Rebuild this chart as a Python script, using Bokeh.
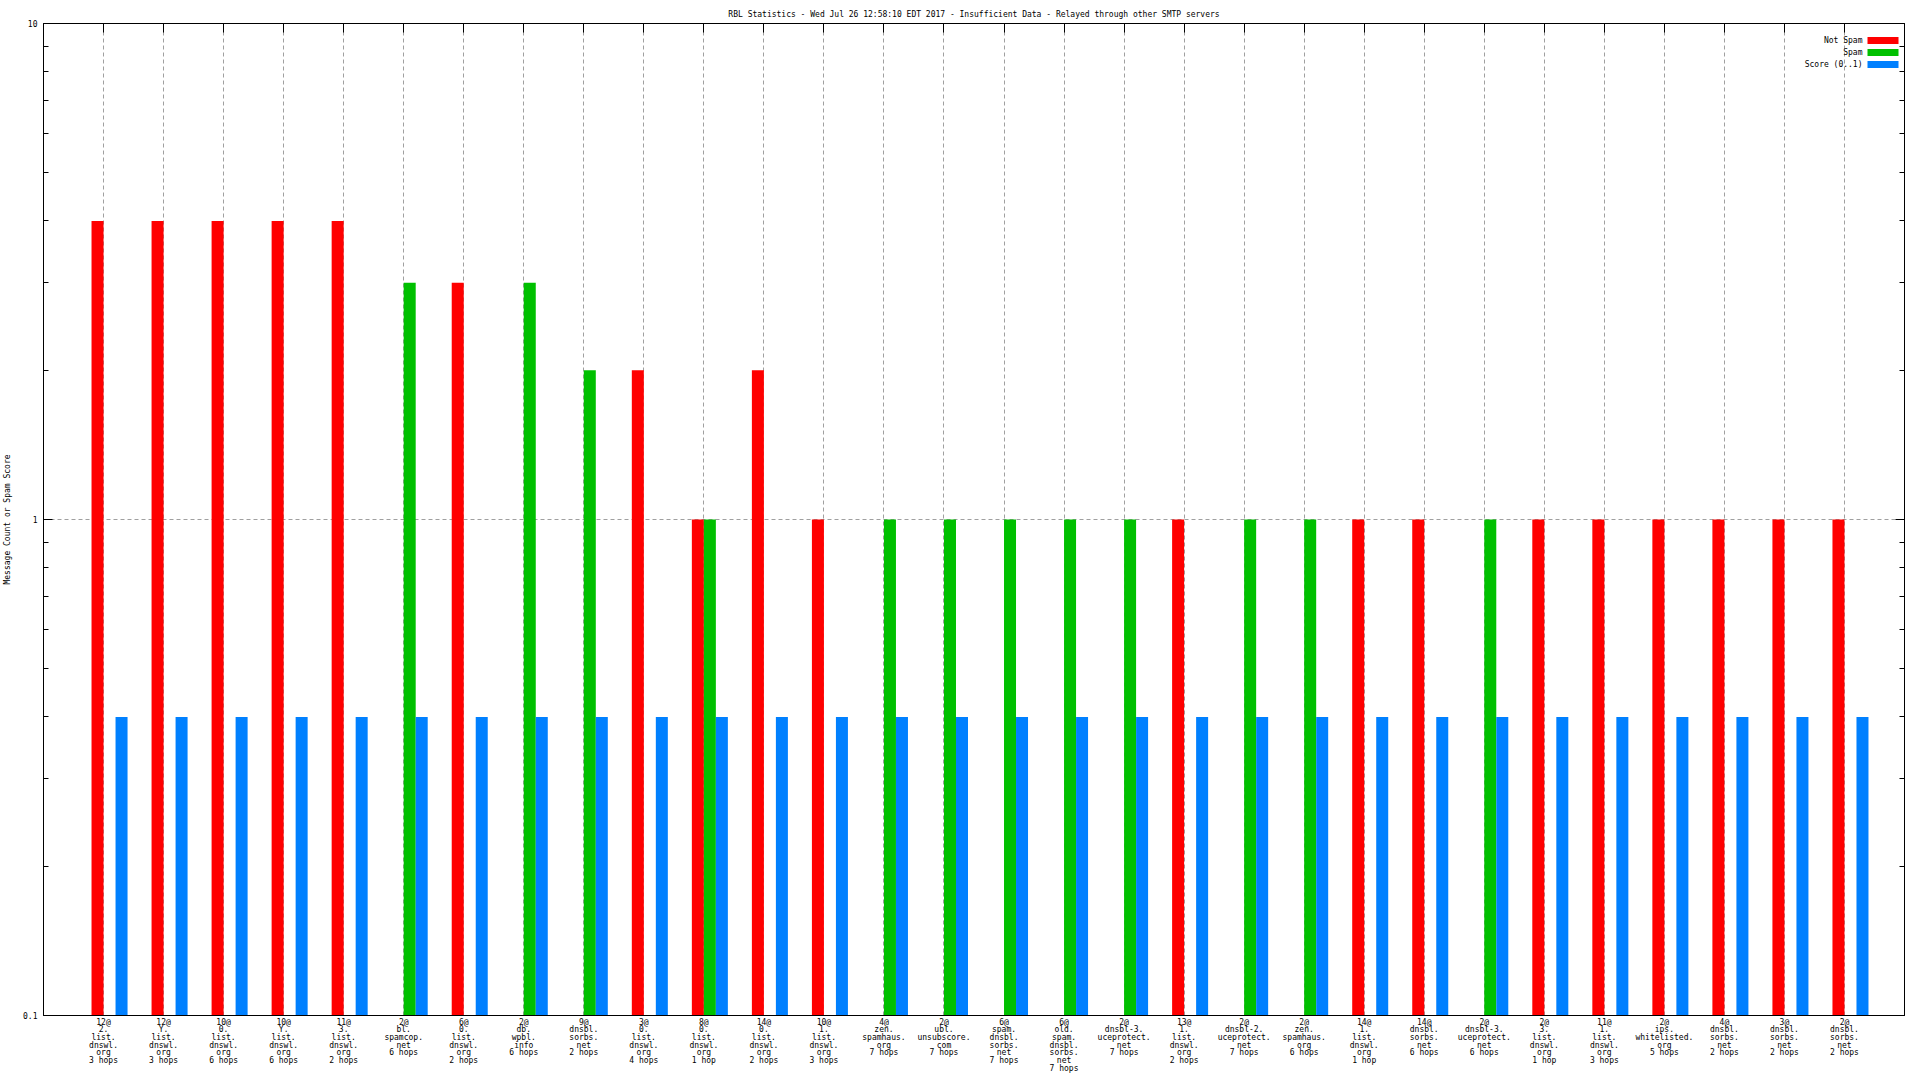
from bokeh.plotting import figure
from bokeh.models import (ColumnDataSource, Range1d, FixedTicker, LinearAxis, LogAxis,
                          Label, BoxAnnotation)
from bokeh.transform import dodge
from bokeh.embed import file_html
from bokeh.resources import INLINE

# ---------------- data ----------------
categories = [
    "12@\n2.\nlist.\ndnswl.\norg\n3 hops",
    "12@\nY.\nlist.\ndnswl.\norg\n3 hops",
    "10@\n0.\nlist.\ndnswl.\norg\n6 hops",
    "10@\nY.\nlist.\ndnswl.\norg\n6 hops",
    "11@\n3.\nlist.\ndnswl.\norg\n2 hops",
    "2@\nbl.\nspamcop.\nnet\n6 hops",
    "6@\n0.\nlist.\ndnswl.\norg\n2 hops",
    "2@\ndb.\nwpbl.\ninfo\n6 hops",
    "9@\ndnsbl.\nsorbs.\nnet\n2 hops",
    "3@\n0.\nlist.\ndnswl.\norg\n4 hops",
    "8@\n0.\nlist.\ndnswl.\norg\n1 hop",
    "14@\n0.\nlist.\ndnswl.\norg\n2 hops",
    "10@\n1.\nlist.\ndnswl.\norg\n3 hops",
    "4@\nzen.\nspamhaus.\norg\n7 hops",
    "2@\nubl.\nunsubscore.\ncom\n7 hops",
    "6@\nspam.\ndnsbl.\nsorbs.\nnet\n7 hops",
    "6@\nold.\nspam.\ndnsbl.\nsorbs.\nnet\n7 hops",
    "2@\ndnsbl-3.\nuceprotect.\nnet\n7 hops",
    "13@\n1.\nlist.\ndnswl.\norg\n2 hops",
    "2@\ndnsbl-2.\nuceprotect.\nnet\n7 hops",
    "2@\nzen.\nspamhaus.\norg\n6 hops",
    "14@\n1.\nlist.\ndnswl.\norg\n1 hop",
    "14@\ndnsbl.\nsorbs.\nnet\n6 hops",
    "2@\ndnsbl-3.\nuceprotect.\nnet\n6 hops",
    "2@\n3.\nlist.\ndnswl.\norg\n1 hop",
    "11@\n1.\nlist.\ndnswl.\norg\n3 hops",
    "2@\nips.\nwhitelisted.\norg\n5 hops",
    "4@\ndnsbl.\nsorbs.\nnet\n2 hops",
    "3@\ndnsbl.\nsorbs.\nnet\n2 hops",
    "2@\ndnsbl.\nsorbs.\nnet\n2 hops",
]
not_spam = [4, 4, 4, 4, 4, 0, 3, 0, 0, 2, 1, 2, 1, 0, 0, 0, 0, 0, 1, 0, 0, 1, 1, 0, 1, 1, 1, 1, 1, 1]
spam     = [0, 0, 0, 0, 0, 3, 0, 3, 2, 0, 1, 0, 0, 1, 1, 1, 1, 1, 0, 1, 1, 0, 0, 1, 0, 0, 0, 0, 0, 0]
score    = [0.4] * 30

series_names = ["Not Spam", "Spam", "Score (0..1)"]
series_colors = ["#ff0000", "#00c000", "#0080ff"]
y_ticks = [0.1, 1, 10]
y_tick_labels = ["0.1", "1", "10"]
y_minor = [0.2, 0.3, 0.4, 0.5, 0.6, 0.7, 0.8, 0.9, 2, 3, 4, 5, 6, 7, 8, 9]

title_text = ("RBL Statistics - Wed Jul 26 12:58:10 EDT 2017 - Insufficient Data - "
              "Relayed through other SMTP servers")
y_label = "Message Count or Spam Score"

FONT = "DejaVu Sans Mono"
FS = "8px"
n = len(categories)
idx = list(range(n))

W, H = 1920, 1080
BL, BR, BT, BB = 40, 16, 23, 65
frame_w = W - BL - BR
frame_h = H - BT - BB

p = figure(width=W, height=H, x_range=Range1d(-1, n), y_range=Range1d(0.1, 10),
           y_axis_type="log", output_backend="svg", toolbar_location=None,
           min_border_left=BL, min_border_right=BR, min_border_top=BT, min_border_bottom=BB)
p.background_fill_color = "white"
p.border_fill_color = "white"
p.outline_line_color = "black"

p.title.text = title_text
p.title.align = "center"
p.title.text_font = FONT
p.title.text_font_size = FS
p.title.text_font_style = "normal"
p.title.text_color = "black"
p.title.standoff = 10
p.title.offset = 0

# bottom axis with multi-line category labels
xa = p.xaxis[0]
xa.ticker = FixedTicker(ticks=idx)
xa.major_label_overrides = {i: c for i, c in enumerate(categories)}
xa.major_label_text_font = FONT
xa.major_label_text_font_size = FS
xa.major_label_text_line_height = 0.86
xa.major_label_text_color = "black"
xa.major_label_standoff = -4
xa.major_tick_line_color = None
xa.minor_tick_line_color = None
xa.axis_line_color = "black"

# left axis
ya = p.yaxis[0]
ya.ticker = FixedTicker(ticks=y_ticks, minor_ticks=y_minor)
ya.major_label_overrides = dict(zip(y_ticks, y_tick_labels))
ya.major_label_text_font = FONT
ya.major_label_text_font_size = FS
ya.major_label_text_color = "black"
ya.major_label_standoff = 6
ya.major_tick_in = 9
ya.major_tick_out = 0
ya.minor_tick_in = 5
ya.minor_tick_out = 0
ya.axis_line_color = "black"
ya.axis_label = y_label
ya.axis_label_text_font = FONT
ya.axis_label_text_font_size = FS
ya.axis_label_text_font_style = "normal"
ya.axis_label_text_color = "black"
ya.axis_label_standoff = 8

# mirror axes (ticks only, labels not painted)
top = LinearAxis(ticker=FixedTicker(ticks=idx), major_label_text_font_size="1px",
                 major_label_text_color=None,
                 major_label_standoff=0, major_tick_in=9, major_tick_out=0,
                 minor_tick_line_color=None, axis_line_color="black")
p.add_layout(top, "above")
right = LogAxis(ticker=FixedTicker(ticks=y_ticks, minor_ticks=y_minor),
                major_label_text_font_size="1px", major_label_text_color=None,
                major_label_standoff=0,
                major_tick_in=9, major_tick_out=0, minor_tick_in=5, minor_tick_out=0,
                axis_line_color="black")
p.add_layout(right, "right")

# grids
p.xgrid.ticker = FixedTicker(ticks=idx)
p.ygrid.ticker = FixedTicker(ticks=[1])
for g in (p.xgrid[0], p.ygrid[0]):
    g.grid_line_color = "#a0a0a0"
    g.grid_line_dash = "4 3"
    g.grid_line_width = 1
p.ygrid.minor_grid_line_color = None

# bars
offsets = [-0.1, 0.1, 0.3]
for vals, off, col in zip([not_spam, spam, score], offsets, series_colors):
    keep = [i for i, v in enumerate(vals) if v > 0]
    src = ColumnDataSource(dict(x=keep, top=[vals[i] for i in keep]))
    p.vbar(x=dodge("x", off), top="top", bottom=p.y_range.start, width=0.2,
           fill_color=col, line_color=None, source=src)

# legend (gnuplot style: text left, swatch right)
for k, (name, col) in enumerate(zip(series_names, series_colors)):
    cy = frame_h - 17 - 12 * k
    p.add_layout(Label(x=frame_w - 45, y=cy, x_units="screen", y_units="screen",
                       text=name, text_align="right", text_baseline="middle",
                       text_font=FONT, text_font_size=FS, text_color="black"))
    p.add_layout(BoxAnnotation(left=frame_w - 40, right=frame_w - 9,
                               bottom=cy - 3.5, top=cy + 3.5,
                               left_units="screen", right_units="screen",
                               bottom_units="screen", top_units="screen",
                               fill_color=col, fill_alpha=1.0, line_color=None))

open("out.html", "w").write(file_html(p, INLINE))
